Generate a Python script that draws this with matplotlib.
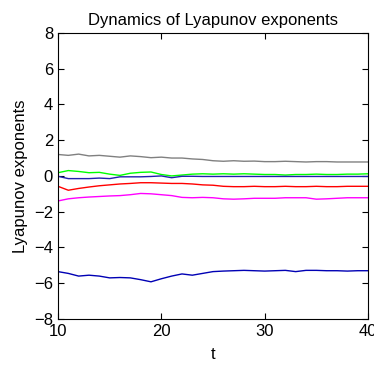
import matplotlib
matplotlib.use("Agg")
import matplotlib.pyplot as plt

plt.rcParams["font.family"] = ["Liberation Sans", "DejaVu Sans"]

t = list(range(10, 41))

gris = [1.20, 1.15, 1.22, 1.12, 1.15, 1.10, 1.05, 1.12, 1.08, 1.02, 1.05,
        1.00, 1.00, 0.95, 0.92, 0.85, 0.82, 0.85, 0.82, 0.83, 0.80, 0.80,
        0.82, 0.80, 0.78, 0.80, 0.80, 0.78, 0.78, 0.78, 0.78]
verde = [0.18, 0.30, 0.25, 0.18, 0.20, 0.10, 0.03, 0.15, 0.20, 0.22, 0.08,
         0.00, 0.05, 0.10, 0.12, 0.10, 0.12, 0.10, 0.12, 0.10, 0.08, 0.08,
         0.05, 0.08, 0.08, 0.10, 0.08, 0.08, 0.10, 0.10, 0.12]
azul = [-0.02, -0.15, -0.15, -0.15, -0.12, -0.15, -0.05, -0.05, -0.05, -0.03,
        0.00, -0.10, -0.02, -0.02, -0.03, -0.03, -0.03, -0.03, -0.03, -0.03,
        -0.03, -0.03, -0.03, -0.03, -0.03, -0.03, -0.03, -0.03, -0.03, -0.03, -0.03]
rojo = [-0.58, -0.80, -0.70, -0.62, -0.55, -0.50, -0.45, -0.42, -0.38, -0.38,
        -0.40, -0.42, -0.42, -0.45, -0.50, -0.52, -0.58, -0.60, -0.60, -0.58,
        -0.60, -0.60, -0.58, -0.60, -0.60, -0.58, -0.60, -0.60, -0.58, -0.58, -0.58]
magenta = [-1.40, -1.28, -1.22, -1.18, -1.15, -1.12, -1.10, -1.05, -0.98, -1.00,
           -1.05, -1.10, -1.20, -1.22, -1.20, -1.22, -1.28, -1.30, -1.28, -1.25,
           -1.25, -1.25, -1.22, -1.22, -1.22, -1.30, -1.28, -1.25, -1.22, -1.22, -1.22]
azul_osc = [-5.35, -5.45, -5.60, -5.55, -5.60, -5.70, -5.68, -5.70, -5.80, -5.92,
            -5.75, -5.60, -5.48, -5.55, -5.45, -5.35, -5.32, -5.30, -5.28, -5.30,
            -5.32, -5.30, -5.28, -5.35, -5.28, -5.28, -5.30, -5.30, -5.32, -5.30, -5.30]

fig = plt.figure(figsize=(3.74, 3.65), dpi=100)
ax = fig.add_axes([0.155, 0.126, 0.829, 0.784])

ax.plot(t, gris, color="#808080", lw=1.0)
ax.plot(t, verde, color="#00ff00", lw=1.0)
ax.plot(t, azul, color="#2020b0", lw=1.0)
ax.plot(t, rojo, color="#ff0000", lw=1.0)
ax.plot(t, magenta, color="#ff00ff", lw=1.0)
ax.plot(t, azul_osc, color="#0000b4", lw=1.0)

ax.set_xlim(10, 40)
ax.set_ylim(-8, 8)
ax.set_xticks([10, 20, 30, 40])
ax.set_yticks(range(-8, 9, 2))
ax.tick_params(direction="in", top=True, right=True, labelsize=12, length=4)
ax.set_xlabel("t", fontsize=12, labelpad=6)
ax.set_ylabel("Lyapunov exponents", fontsize=12)
ax.set_title("Dynamics of Lyapunov exponents", fontsize=12)

fig.savefig("out.png", dpi=100)
